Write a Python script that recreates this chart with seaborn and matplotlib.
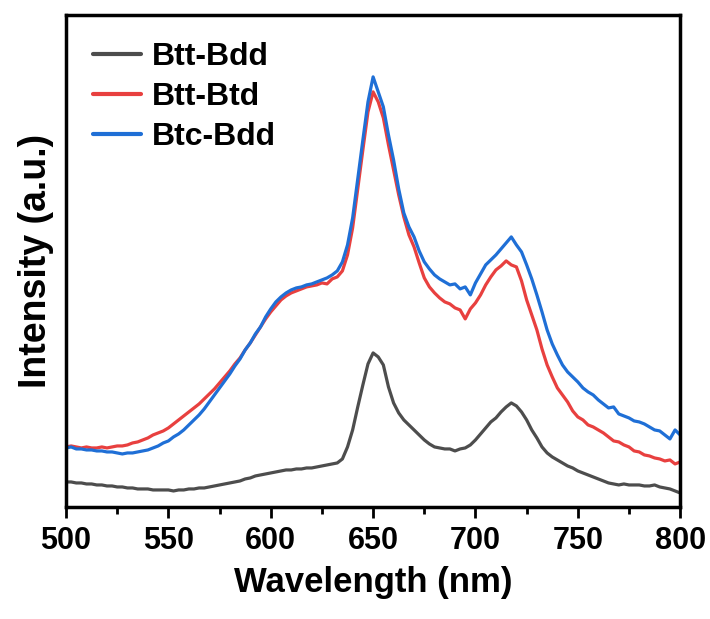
import numpy as np
import pandas as pd
import matplotlib
matplotlib.use("Agg")
import matplotlib.pyplot as plt
import seaborn as sns
from matplotlib.ticker import MultipleLocator

# wavelength grid (nm): the reference was read every 2.5 nm
wavelength = [500 + 2.5 * i for i in range(121)]

# intensities (arbitrary units), one row = 25 nm
btt_bdd = [25, 25, 24, 24, 23, 23, 22, 22, 21, 21,
           20, 20, 19, 19, 18, 18, 18, 17, 17, 17,
           17, 16, 17, 17, 18, 18, 19, 19, 20, 21,
           22, 23, 24, 25, 26, 28, 29, 31, 32, 33,
           34, 35, 36, 37, 37, 38, 38, 39, 39, 40,
           41, 42, 43, 44, 48, 60, 77, 100, 122, 143,
           154, 150, 142, 120, 104, 94, 87, 82, 77, 72,
           67, 63, 60, 59, 58, 58, 56, 58, 59, 62,
           67, 73, 79, 85, 89, 95, 100, 104, 101, 95,
           87, 77, 69, 60, 54, 50, 47, 44, 41, 39,
           36, 34, 32, 30, 28, 26, 24, 23, 22, 23,
           22, 22, 22, 21, 21, 22, 20, 19, 18, 16,
           14]
btt_btd = [60, 61, 60, 59, 60, 59, 59, 60, 59, 60,
           61, 61, 62, 64, 65, 67, 69, 72, 74, 76,
           79, 83, 87, 91, 95, 99, 103, 108, 113, 118,
           124, 130, 136, 143, 149, 157, 164, 172, 180, 188,
           195, 201, 207, 211, 214, 216, 218, 220, 221, 222,
           224, 223, 228, 230, 236, 252, 279, 318, 357, 395,
           415, 405, 389, 362, 337, 312, 290, 272, 260, 244,
           229, 220, 214, 209, 205, 203, 199, 197, 188, 198,
           204, 212, 222, 230, 237, 241, 246, 242, 240, 226,
           207, 192, 177, 158, 142, 130, 119, 112, 105, 96,
           90, 87, 82, 80, 77, 74, 70, 66, 65, 62,
           60, 56, 55, 52, 51, 49, 48, 46, 47, 43,
           45]
btc_bdd = [59, 60, 58, 58, 57, 57, 56, 56, 55, 55,
           54, 53, 54, 54, 55, 56, 57, 59, 61, 64,
           66, 70, 73, 77, 82, 87, 92, 98, 105, 112,
           119, 126, 133, 141, 148, 157, 164, 173, 180, 190,
           198, 205, 210, 214, 217, 219, 220, 222, 223, 225,
           227, 229, 232, 236, 245, 262, 289, 328, 367, 405,
           430, 415, 400, 372, 347, 318, 294, 280, 270, 256,
           245, 238, 232, 228, 225, 222, 223, 218, 220, 212,
           224, 233, 242, 247, 252, 258, 264, 270, 262, 255,
           242, 228, 212, 195, 177, 163, 152, 142, 135, 130,
           125, 119, 115, 112, 107, 103, 99, 100, 93, 91,
           89, 86, 85, 83, 80, 77, 76, 72, 68, 77,
           72]

series_names = ["Btt-Bdd", "Btt-Btd", "Btc-Bdd"]
colors = ["#4d4d4d", "#e8403f", "#1f6fd6"]

df = pd.DataFrame({"wavelength": wavelength, "Btt-Bdd": btt_bdd,
                   "Btt-Btd": btt_btd, "Btc-Bdd": btc_bdd})
long_df = df.melt(id_vars="wavelength", var_name="sample", value_name="intensity")

sns.set_theme(style="white")
plt.rcParams['font.family'] = ['Liberation Sans', 'DejaVu Sans']
plt.rcParams['font.weight'] = 'bold'
plt.rcParams['text.color'] = 'black'
plt.rcParams['axes.labelcolor'] = 'black'
plt.rcParams['xtick.color'] = 'black'

fig = plt.figure(figsize=(7.1, 6.19), dpi=100)
ax = fig.add_axes([0.093, 0.181, 0.865, 0.795])

sns.lineplot(data=long_df, x="wavelength", y="intensity", hue="sample",
             hue_order=series_names, palette=colors, linewidth=2.3, ax=ax)

ax.set_xlim(500, 800)
ax.set_ylim(0, 492)
ax.set_yticks([])
ax.xaxis.set_major_locator(MultipleLocator(50))
ax.xaxis.set_minor_locator(MultipleLocator(25))
ax.tick_params(axis='x', which='major', direction='out', length=8, width=2,
               labelsize=22, bottom=True, pad=6, labelcolor='black')
ax.tick_params(axis='x', which='minor', direction='out', length=5, width=2, bottom=True)
for lab in ax.get_xticklabels():
    lab.set_fontweight('bold')

for sp in ax.spines.values():
    sp.set_linewidth(2.5)
    sp.set_color('black')

ax.set_xlabel("Wavelength (nm)", fontsize=25, fontweight='bold', labelpad=7, color='black')
ax.set_ylabel("Intensity (a.u.)", fontsize=27, fontweight='bold', labelpad=9, color='black')

leg = ax.legend(loc='upper left', frameon=False, handlelength=1.5,
                handletextpad=0.35, labelspacing=0.32, borderaxespad=0.4,
                borderpad=0.45, prop={'weight': 'bold', 'size': 23})
for line in leg.get_lines():
    line.set_linewidth(3)
for txt in leg.get_texts():
    txt.set_color('black')

fig.savefig("out.png", dpi=100)
